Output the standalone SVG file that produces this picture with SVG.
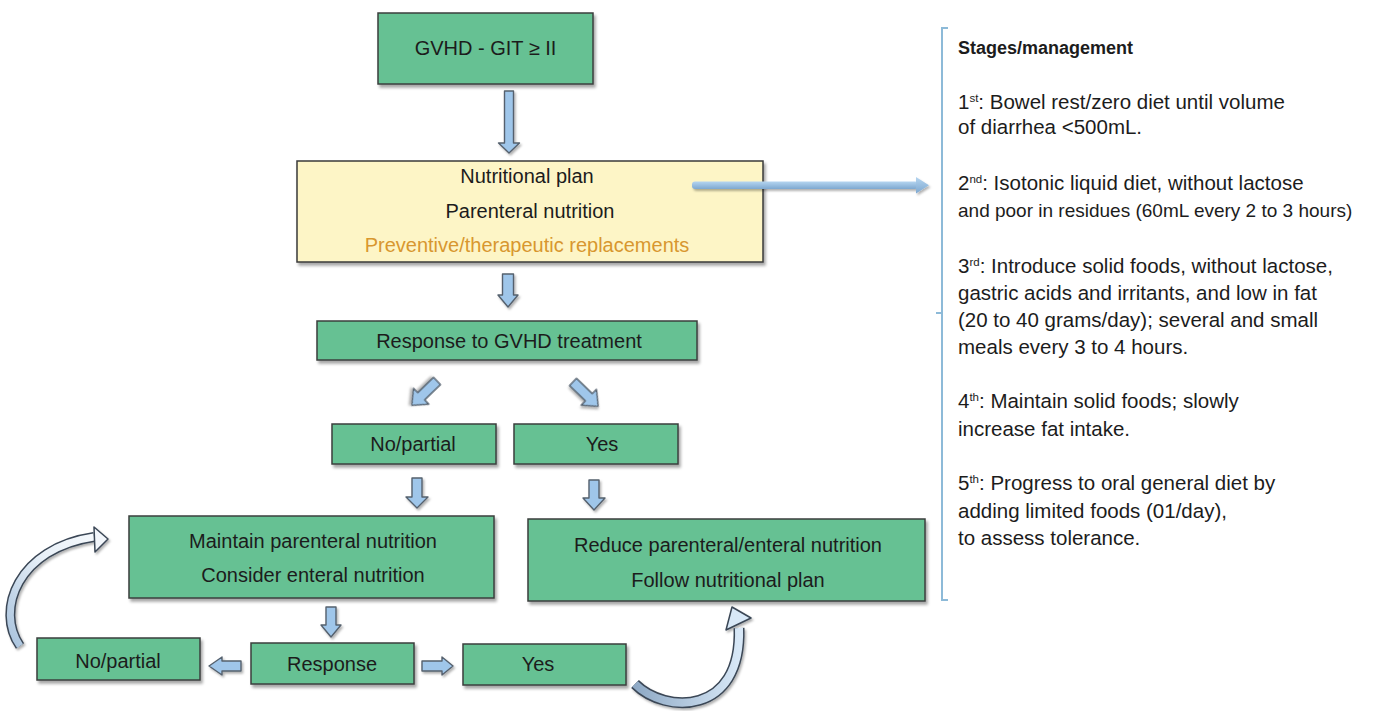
<svg xmlns="http://www.w3.org/2000/svg" width="1374" height="711" viewBox="0 0 1374 711">
<defs>
<filter id="sh" x="-10%" y="-10%" width="130%" height="140%">
<feDropShadow dx="2" dy="3" stdDeviation="1.8" flood-color="#000" flood-opacity="0.35"/>
</filter>
<filter id="sh2" x="-20%" y="-20%" width="150%" height="150%">
<feDropShadow dx="1.5" dy="2" stdDeviation="1.2" flood-color="#000" flood-opacity="0.3"/>
</filter>
<linearGradient id="hg" x1="0" y1="0" x2="0" y2="1">
<stop offset="0" stop-color="#b5d5f0"/>
<stop offset="1" stop-color="#7ea8d0"/>
</linearGradient>
<linearGradient id="lg" x1="0" y1="1" x2="1" y2="0">
<stop offset="0" stop-color="#a9c3dd"/>
<stop offset="0.6" stop-color="#e8f0f8"/>
<stop offset="1" stop-color="#f4f8fc"/>
</linearGradient>
<linearGradient id="rg" x1="0" y1="0" x2="1" y2="0">
<stop offset="0" stop-color="#8ea9c5"/>
<stop offset="1" stop-color="#d8e8f7"/>
</linearGradient>
<style>
.g{fill:#66c193;stroke:#3a3f3c;stroke-width:1.5;filter:url(#sh)}
.y{fill:#fdf5c6;stroke:#3a3a3a;stroke-width:1.5;filter:url(#sh)}
.t{font-family:"Liberation Sans",Arial,sans-serif;font-size:20px;fill:#1c1c1c;text-anchor:middle}
.o{fill:#d8972f}
.a{fill:#9fc6ea;stroke:#55616e;stroke-width:1.4;stroke-linejoin:round;filter:url(#sh2)}
.p{font-family:"Liberation Sans",Arial,sans-serif;font-size:20.5px;fill:#1c1c1c}
.b{font-weight:bold;font-size:18px}
.sup{font-size:11.5px}
</style>
</defs>

<g id="n1">
<rect class="g" x="378" y="13" width="215" height="71"/>
<text class="t" x="485.5" y="55">GVHD - GIT ≥ II</text>
</g>
<g id="n2">
<rect class="y" x="297" y="161" width="466" height="101"/>
<text class="t" x="527" y="183">Nutritional plan</text>
<text class="t" x="530" y="218">Parenteral nutrition</text>
<text class="t o" x="527" y="252">Preventive/therapeutic replacements</text>
</g>
<g id="n3">
<rect class="g" x="317" y="321" width="380" height="39"/>
<text class="t" x="509" y="348">Response to GVHD treatment</text>
</g>
<g id="n4">
<rect class="g" x="332" y="424" width="164" height="40"/>
<text class="t" x="413" y="451">No/partial</text>
</g>
<g id="n5">
<rect class="g" x="514" y="424" width="164" height="40"/>
<text class="t" x="602" y="451">Yes</text>
</g>
<g id="n6">
<rect class="g" x="129" y="516" width="365" height="82"/>
<text class="t" x="313" y="548">Maintain parenteral nutrition</text>
<text class="t" x="313" y="582">Consider enteral nutrition</text>
</g>
<g id="n7">
<rect class="g" x="528" y="519" width="397" height="82"/>
<text class="t" x="728" y="552">Reduce parenteral/enteral nutrition</text>
<text class="t" x="728" y="587">Follow nutritional plan</text>
</g>
<g id="n8">
<rect class="g" x="37" y="638" width="163" height="42"/>
<text class="t" x="118" y="668">No/partial</text>
</g>
<g id="n9">
<rect class="g" x="251" y="643" width="163" height="41"/>
<text class="t" x="332" y="671">Response</text>
</g>
<g id="n10">
<rect class="g" x="463" y="644" width="163" height="41"/>
<text class="t" x="538" y="671">Yes</text>
</g>

<g id="connectors">
<path class="a" d="M504.5,91 H513.5 V143 H519.5 L509,153 L498.5,143 H504.5 Z"/>
<path class="a" d="M502.5,274 H513.5 V295 H518 L508,307 L498,295 H502.5 Z"/>
<path class="a" transform="translate(437,381) rotate(136)" d="M0,-5 H22 V-11 L35,0 L22,11 V5 H0 Z"/>
<path class="a" transform="translate(573,382) rotate(44)" d="M0,-5 H22 V-11 L35,0 L22,11 V5 H0 Z"/>
<path class="a" d="M412,478 H422 V497 H428 L417,508 L406,497 H412 Z"/>
<path class="a" d="M589,480 H599 V498 H605 L594,510 L583,498 H589 Z"/>
<path class="a" d="M326,607 H336 V625 H341 L331,637 L321,625 H326 Z"/>
<path class="a" d="M241,661 V671 H222 V675 L209,666 L222,657 V661 Z"/>
<path class="a" d="M422,661 V671 H442 V675 L453,666 L442,657 V661 Z"/>
<g filter="url(#sh2)">
<rect x="692" y="181.5" width="226" height="7.5" rx="3" fill="url(#hg)"/>
<path d="M916,177 L929,185.2 L916,193.5 Z" fill="url(#hg)"/>
</g>
<g filter="url(#sh2)">
<path d="M20,646 C-5,610 18,548 94,537" fill="none" stroke="#3b4756" stroke-width="10"/>
<path d="M20,646 C-5,610 18,548 94,537" fill="none" stroke="url(#lg)" stroke-width="7"/>
<path d="M94,527 L108,539 L95,552 Z" fill="#f2f6fb" stroke="#3b4756" stroke-width="1.5" stroke-linejoin="round"/>
</g>
<g filter="url(#sh2)">
<path d="M635,684 C665,714 742,716 739,628" fill="none" stroke="#3b4756" stroke-width="11"/>
<path d="M635,684 C665,714 742,716 739,628" fill="none" stroke="url(#rg)" stroke-width="8"/>
<path d="M726,630 L732,607 L751,618 Z" fill="#d8e8f7" stroke="#3b4756" stroke-width="1.5" stroke-linejoin="round"/>
</g>
</g>

<g id="panel">
<path d="M948,28 H942 V600 H948 M942,313 H936" fill="none" stroke="#8dbad8" stroke-width="2"/>
<text class="p b" x="958" y="54">Stages/management</text>
<text class="p" x="958" y="109">1<tspan class="sup" dy="-7">st</tspan><tspan dy="7">: Bowel rest/zero diet until volume</tspan></text>
<text class="p" x="958" y="134">of diarrhea &lt;500mL.</text>
<text class="p" x="958" y="190">2<tspan class="sup" dy="-7">nd</tspan><tspan dy="7">: Isotonic liquid diet, without lactose</tspan></text>
<text class="p" x="958" y="217" style="font-size:19px">and poor in residues (60mL every 2 to 3 hours)</text>
<text class="p" x="958" y="273">3<tspan class="sup" dy="-7">rd</tspan><tspan dy="7">: Introduce solid foods, without lactose,</tspan></text>
<text class="p" x="958" y="300">gastric acids and irritants, and low in fat</text>
<text class="p" x="958" y="327">(20 to 40 grams/day); several and small</text>
<text class="p" x="958" y="354">meals every 3 to 4 hours.</text>
<text class="p" x="958" y="408">4<tspan class="sup" dy="-7">th</tspan><tspan dy="7">: Maintain solid foods; slowly</tspan></text>
<text class="p" x="958" y="436">increase fat intake.</text>
<text class="p" x="958" y="490">5<tspan class="sup" dy="-7">th</tspan><tspan dy="7">: Progress to oral general diet by</tspan></text>
<text class="p" x="958" y="518">adding limited foods (01/day),</text>
<text class="p" x="958" y="545">to assess tolerance.</text>
</g>
</svg>
